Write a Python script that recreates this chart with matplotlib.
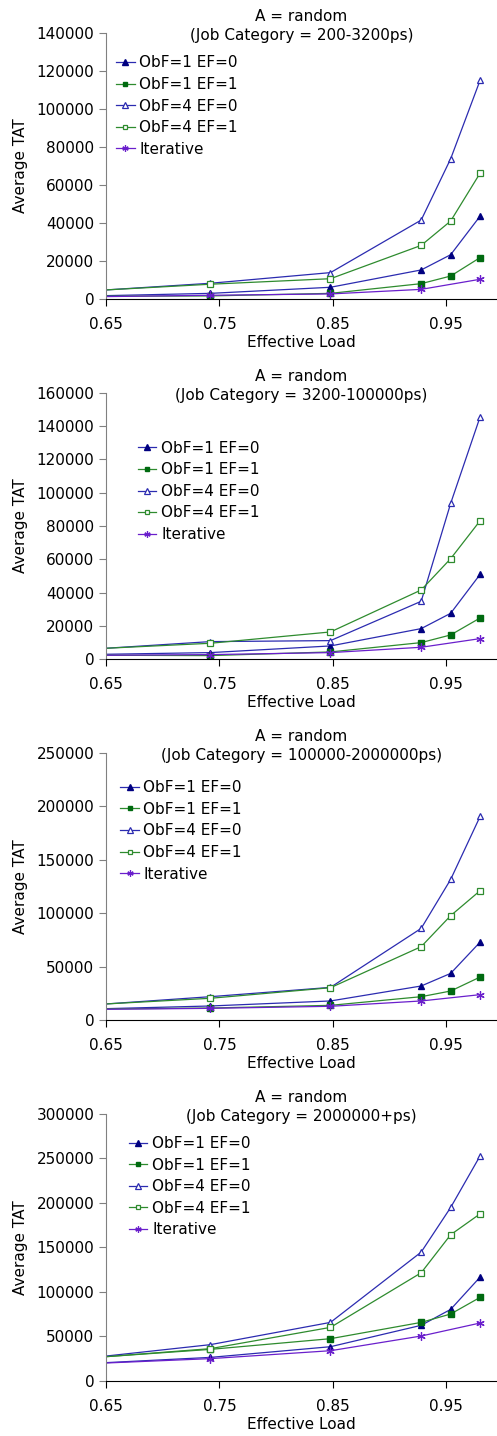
import matplotlib
matplotlib.use("Agg")
import matplotlib.pyplot as plt
import numpy as np

# effective load values (first point sits on the left edge, no marker drawn there)
load = [0.65, 0.742, 0.848, 0.928, 0.954, 0.980]
load_iter = [0.65, 0.742, 0.848, 0.928, 0.980]

titles = ["A = random\n(Job Category = 200-3200ps)",
          "A = random\n(Job Category = 3200-100000ps)",
          "A = random\n(Job Category = 100000-2000000ps)",
          "A = random\n(Job Category = 2000000+ps)"]

# plot 1
obf1_ef0_a = [1900, 3100, 6300, 15400, 23400, 43700]
obf1_ef1_a = [1600, 1750, 3100, 8200, 12200, 21900]
obf4_ef0_a = [4900, 8400, 14000, 41600, 73800, 115100]
obf4_ef1_a = [4900, 7900, 10800, 28300, 41100, 66300]
iter_a = [1400, 2100, 2800, 5200, 10500]

# plot 2
obf1_ef0_b = [3000, 4000, 8000, 18400, 27600, 51000]
obf1_ef1_b = [2400, 2200, 4400, 10000, 14600, 24800]
obf4_ef0_b = [6600, 10600, 11200, 34800, 93600, 145600]
obf4_ef1_b = [6600, 9600, 16400, 41600, 60400, 83200]
iter_b = [2400, 2800, 4000, 7200, 12400]

# plot 3
obf1_ef0_c = [10600, 13100, 17800, 31800, 43600, 72900]
obf1_ef1_c = [10300, 11200, 13700, 21800, 27100, 40200]
obf4_ef0_c = [15000, 21800, 30500, 85700, 131500, 190500]
obf4_ef1_c = [15000, 20300, 30200, 68600, 97600, 121000]
iter_c = [10000, 10900, 12800, 17800, 23700]

# plot 4
obf1_ef0_d = [20600, 26500, 38500, 62500, 80400, 116700]
obf1_ef1_d = [27300, 35500, 47500, 65800, 75200, 93900]
obf4_ef0_d = [28000, 40800, 65800, 144700, 194800, 252800]
obf4_ef1_d = [27300, 36300, 60200, 121500, 164200, 187700]
iter_d = [20200, 25100, 34000, 50500, 65100]

panels = [
    (obf1_ef0_a, obf1_ef1_a, obf4_ef0_a, obf4_ef1_a, iter_a),
    (obf1_ef0_b, obf1_ef1_b, obf4_ef0_b, obf4_ef1_b, iter_b),
    (obf1_ef0_c, obf1_ef1_c, obf4_ef0_c, obf4_ef1_c, iter_c),
    (obf1_ef0_d, obf1_ef1_d, obf4_ef0_d, obf4_ef1_d, iter_d),
]
ymax = [140000, 160000, 250000, 300000]
ystep = [20000, 20000, 50000, 50000]

# axes boxes in figure fraction (left, bottom, width, height)
boxes = [(0.2133, 0.7916, 0.787, 0.1856),
         (0.2133, 0.5409, 0.787, 0.1856),
         (0.2133, 0.2897, 0.787, 0.1861),
         (0.2133, 0.0383, 0.787, 0.1861)]
leg_pos = [(0.026, 0.915), (0.082, 0.82), (0.037, 0.897), (0.059, 0.917)]

plt.rcParams['font.family'] = ['DejaVu Sans']
fig = plt.figure(figsize=(4.97, 14.36), dpi=100)

navy = '#000080'
blue = '#2b2bb0'
green = '#006a10'
lgreen = '#2e8b2e'
purple = '#6a1fcc'

for i, (s1, s2, s3, s4, s5) in enumerate(panels):
    ax = fig.add_axes(boxes[i])
    skip = list(range(1, 6))
    ax.plot(load, s1, color=blue, lw=0.9, marker='^', ms=5, mfc=navy, mec=navy,
            markevery=skip, label='ObF=1 EF=0')
    ax.plot(load, s2, color=lgreen, lw=0.9, marker='s', ms=4.5, mfc=green, mec=green,
            markevery=skip, label='ObF=1 EF=1')
    ax.plot(load, s3, color=blue, lw=0.9, marker='^', ms=5, mfc='white', mec=blue,
            mew=0.9, markevery=skip, label='ObF=4 EF=0')
    ax.plot(load, s4, color=lgreen, lw=0.9, marker='s', ms=4.5, mfc='white', mec=lgreen,
            mew=0.9, markevery=skip, label='ObF=4 EF=1')
    ax.plot(load_iter, s5, color=purple, lw=0.9, marker=(6, 2, 0), ms=6, mec=purple,
            mew=0.9, markevery=list(range(1, 5)), label='Iterative')

    ax.set_xlim(0.65, 0.995)
    ax.set_ylim(0, ymax[i])
    ax.set_xticks([0.65, 0.75, 0.85, 0.95])
    ax.set_xticklabels(['0.65', '0.75', '0.85', '0.95'])
    ax.set_yticks(np.arange(0, ymax[i] + 1, ystep[i]))
    ax.tick_params(axis='both', labelsize=11, length=5, width=0.8, direction='out')
    ax.tick_params(axis='y', colors='#808080', labelcolor='black')
    ax.tick_params(axis='x', pad=8)
    for side in ['top', 'right']:
        ax.spines[side].set_visible(False)
    ax.spines['left'].set_color('#808080')
    ax.spines['bottom'].set_color('black')
    ax.set_xlabel('Effective Load', fontsize=11, labelpad=2)
    ax.set_ylabel('Average TAT', fontsize=11, labelpad=6)
    ax.set_title(titles[i], fontsize=11, y=1.0, pad=-5, linespacing=1.3)
    ax.legend(loc='upper left', bbox_to_anchor=leg_pos[i], frameon=False,
              fontsize=11, borderpad=0, borderaxespad=0, handlelength=1.2,
              handletextpad=0.3, labelspacing=0.43, markerscale=0.75)

fig.savefig('out.png', dpi=100)
